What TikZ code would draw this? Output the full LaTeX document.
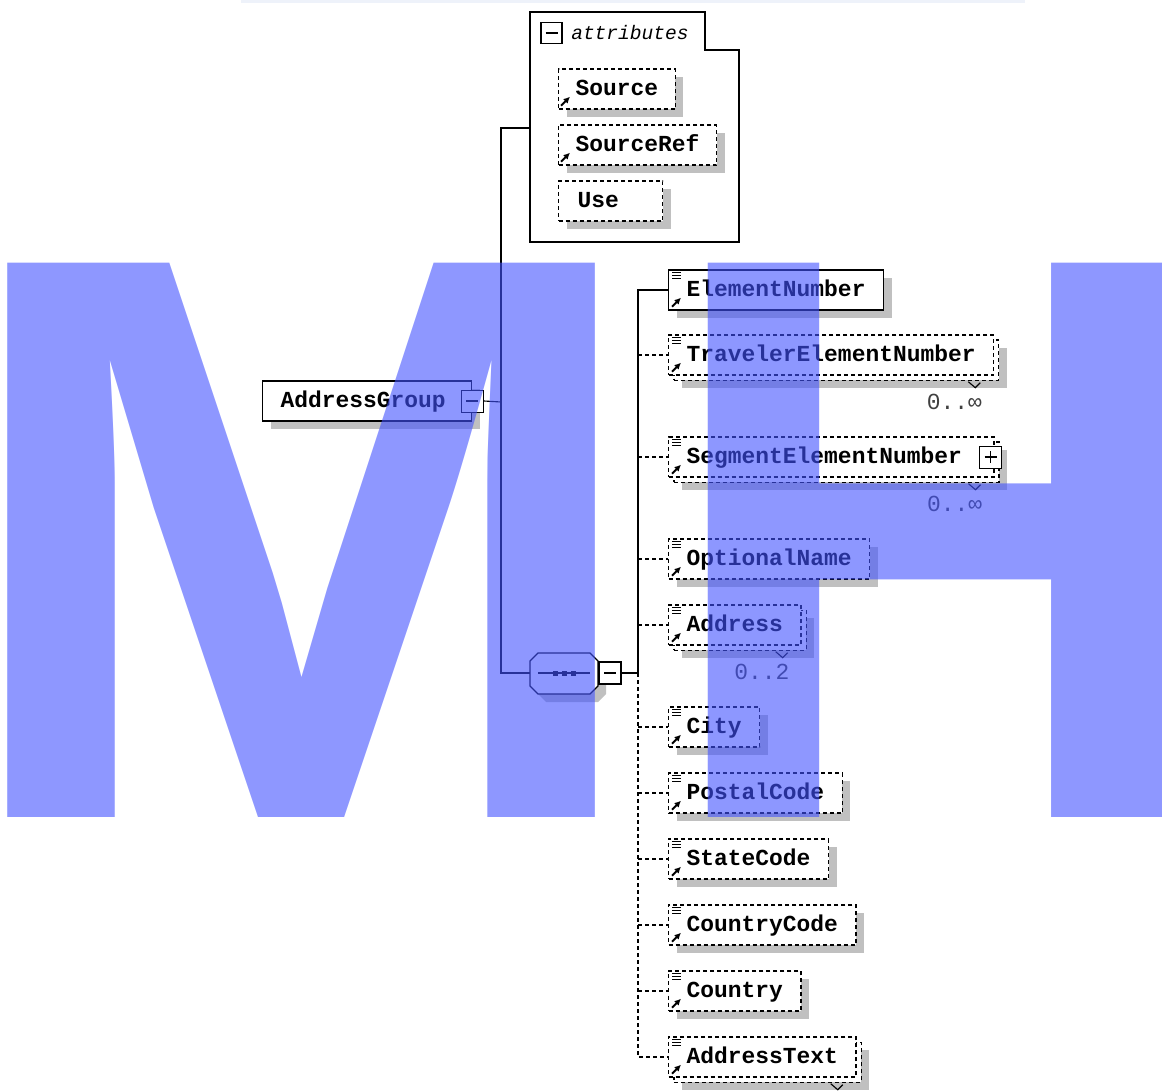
\documentclass[tikz,border=0pt]{standalone}
\usepackage{fontspec}
\usepackage{tikz}
\usetikzlibrary{arrows.meta, positioning, shadows}
\newfontfamily\xsdfont{Liberation Mono}
\newfontfamily\wmfont{Liberation Sans}
\definecolor{XSD_Shadow}{HTML}{C0C0C0}
\definecolor{XSD_Strip}{HTML}{EEF2FA}
\definecolor{MH_Blue}{RGB}{66,82,255}

\tikzset{
  elembase/.style={draw, line width=1pt, dash pattern=on 0.1cm off 0.075cm, fill=white,
    minimum height=1cm, inner xsep=0.45cm, inner ysep=0pt, anchor=west,
    text height=10pt, text depth=1pt, font=\xsdfont\bfseries\fontsize{16.3}{18}\selectfont},
  single/.style={drop shadow={shadow xshift=0.2cm, shadow yshift=-0.2cm, fill=XSD_Shadow, opacity=1}},
  req/.style={elembase, solid, single},
  opt/.style={elembase, single},
  many/.style={elembase,
    drop shadow={shadow xshift=0.33cm, shadow yshift=-0.33cm, fill=XSD_Shadow, opacity=1},
    copy shadow={shadow xshift=0.13cm, shadow yshift=-0.13cm, draw, line width=1pt,
      dash pattern=on 0.1cm off 0.075cm, fill=white}},
  manyplus/.style={many, text width=7.225cm, align=left},
  btn/.style={draw, solid, fill=white, minimum size=0.55cm, inner sep=0pt, line width=0.7pt},
  link/.style={line width=0.8pt},
  dashlink/.style={link, dash pattern=on 0.1cm off 0.075cm},
  icon/.style={line width=0.8pt, solid},
  refarrow/.style={solid, line width=1.3pt, -{Latex[length=0.16cm, width=0.16cm]}},
  card/.style={inner sep=0pt, text=black!75, font=\xsdfont\fontsize{16.3}{18}\selectfont},
  wmark/.style={anchor=base west, inner sep=0pt, text=MH_Blue, text opacity=0.6,
    font=\wmfont\bfseries\fontsize{573}{573}\selectfont}
}

\begin{document}
\begin{tikzpicture}[x=0.025cm, y=-0.025cm]
  \useasboundingbox (0,0) rectangle (1162,1090);
  \clip (0,0) rectangle (1162,1090);
  \fill[XSD_Strip] (241,0) rectangle (1025,3);

  % attributes of AddressGroup
  \draw[link, line width=1pt] (530,12) -- (705,12) -- (705,50) -- (739,50) -- (739,242) -- (530,242) -- cycle;
  \node[btn, line width=1pt, minimum size=0.525cm] (attrbtn) at (551.5,33) {};
  \draw[icon] ([shift={(-6,0)}]attrbtn.center) -- ([shift={(6,0)}]attrbtn.center);
  \node[anchor=west, inner sep=0pt, font=\xsdfont\itshape\fontsize{13.9}{16}\selectfont] (attrlbl) at (571,33) {attributes};
  \coordinate (attr) at (530,128);
  \foreach \nm/\lbl/\yy in {src/Source/89, srcref/SourceRef/145} {
    \node[opt, inner xsep=0.425cm] (\nm) at (558,\yy) {\lbl};
    \draw[refarrow] ([shift={(3,-4)}]\nm.south west) -- ++(9,-9);
  }
  \node[opt, inner xsep=0.475cm, text width=1.65cm, align=left] (use) at (558,201) {Use};

  % AddressGroup and its trunk
  \node[req, text width=4.325cm, align=left] (ag) at (262,401) {AddressGroup};
  \node[btn] (agbtn) at (ag.east) {};
  \draw[icon] ([shift={(-6,0)}]agbtn.center) -- ([shift={(6,0)}]agbtn.center);
  \coordinate (trunk) at (501,402);
  \draw[link] (agbtn.east) -- (trunk);
  \draw[link] (trunk) |- (attr);

  % sequence compositor
  \begin{scope}[shift={(8,8)}]
    \fill[XSD_Shadow] (538,653) -- (590,653) -- (598,661) -- (598,686) -- (590,694) -- (538,694) -- (530,686) -- (530,661) -- cycle;
  \end{scope}
  \draw[link, fill=white] (538,653) -- (590,653) -- (598,661) -- (598,686) -- (590,694) -- (538,694) -- (530,686) -- (530,661) -- cycle;
  \node[inner sep=0pt, minimum width=1.7cm, minimum height=1.025cm] (seq) at (564,673) {};
  \draw[link] (538,673) -- (590,673);
  \foreach \dx in {555,564,573}
    \fill (\dx-2.5,670.5) rectangle (\dx+2.5,675.5);
  \draw[link] (trunk) |- (seq.west);
  \node[btn, line width=1.3pt, anchor=west] (seqbtn) at (seq.east) {};
  \draw[icon] ([shift={(-6,0)}]seqbtn.center) -- ([shift={(6,0)}]seqbtn.center);
  \coordinate (spine) at (638,673);
  \draw[link] (seqbtn.east) -- (spine);

  % child elements of the sequence
  \foreach \nm/\lbl/\yy/\sty in {en/ElementNumber/290/req, ten/TravelerElementNumber/355/many,
      sen/SegmentElementNumber/457/manyplus, optn/OptionalName/559/opt, addr/Address/625/many,
      city/City/727/opt, pc/PostalCode/793/opt, sc/StateCode/859/opt, cc/CountryCode/925/opt,
      ctry/Country/991/opt, atext/AddressText/1057/many} {
    \node[\sty] (\nm) at (668,\yy) {\lbl};
    \foreach \k in {3,6,9}
      \draw[icon] ([shift={(4,\k)}]\nm.north west) -- ++(9,0);
    \draw[refarrow] ([shift={(4,-4)}]\nm.south west) -- ++(9,-9);
  }
  \draw[link] (spine) |- (en.west);
  \draw[dashlink] (spine) |- (atext.west);
  \foreach \nm in {ten,sen,optn,addr,city,pc,sc,cc,ctry}
    \draw[dashlink] (spine |- \nm.west) -- (\nm.west);

  % expand button and occurrence labels
  \node[btn] (senbtn) at ([shift={(-4,0)}]sen.east) {};
  \draw[icon] ([shift={(-6,0)}]senbtn.center) -- ([shift={(6,0)}]senbtn.center);
  \draw[icon] ([shift={(0,-6)}]senbtn.center) -- ([shift={(0,6)}]senbtn.center);
  \foreach \nm/\occ in {ten/0..∞, sen/0..∞, addr/0..2} {
    \draw[icon] ([shift={(-26,6)}]\nm.south east) -- ++(7,6) -- ++(5,-5);
    \node[card, anchor=east] (\nm-occ) at ([shift={(-12,26)}]\nm.south east) {\occ};
  }
  \draw[icon] ([shift={(-26,6)}]atext.south east) -- ++(7,6) -- ++(5,-5);

  % watermark
  \node[wmark, xscale=1.043] (wmM) at (-48.5,817) {M};
  \node[wmark, xscale=0.96] (wmH) at (656,817) {H};
\end{tikzpicture}
\end{document}
